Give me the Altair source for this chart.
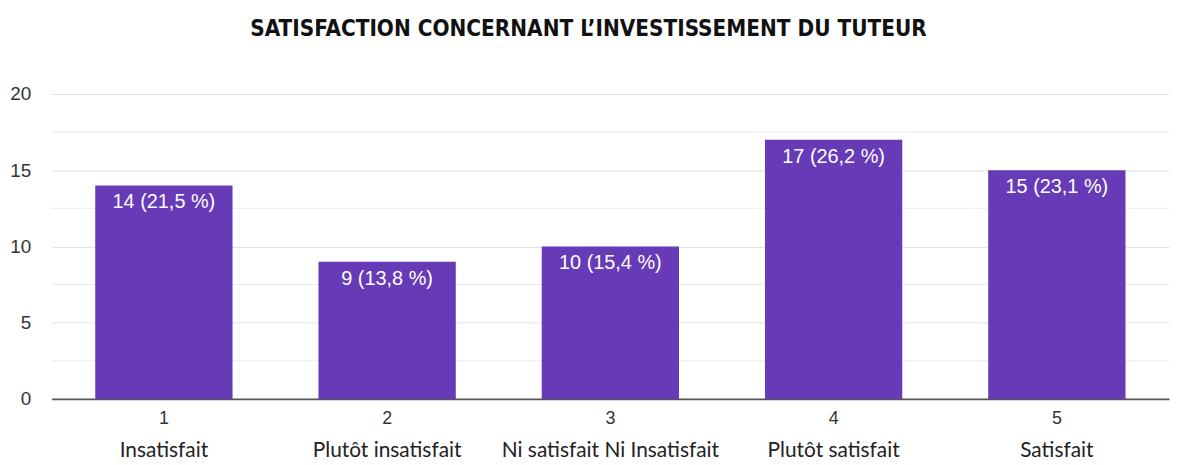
import altair as alt
import pandas as pd

codes = ["1", "2", "3", "4", "5"]
names = ["Insatisfait", "Plutôt insatisfait", "Ni satisfait Ni Insatisfait", "Plutôt satisfait", "Satisfait"]
counts = [14, 9, 10, 17, 15]
percents = ["21,5", "13,8", "15,4", "26,2", "23,1"]
y_major = [0, 5, 10, 15, 20]
y_minor = [2.5, 7.5, 12.5, 17.5]

df = pd.DataFrame({"code": codes, "name": names, "count": counts, "pct": percents})
df["label"] = df["count"].astype(str) + " (" + df["pct"] + " %)"
minor_df = pd.DataFrame({"v": y_minor})

W, H = 1125, 307

x = alt.X(
    "code:N", sort=codes,
    scale=alt.Scale(paddingInner=0.385, paddingOuter=0.195),
    axis=alt.Axis(labelAngle=0, title=None, ticks=False, domainColor="#555555", domainWidth=2,
                  labelFont="Liberation Sans", labelFontSize=18, labelColor="#333333",
                  labelPadding=11, grid=False),
)
y = alt.Y(
    "count:Q",
    scale=alt.Scale(domain=[0, 20], nice=False),
    axis=alt.Axis(values=y_major, title=None, domain=False, ticks=False,
                  gridColor="#e2e2e2", gridWidth=1,
                  labelFont="Liberation Sans", labelFontSize=19, labelColor="#333333",
                  labelPadding=21),
)

minor = alt.Chart(minor_df).mark_rule(color="#ececec", strokeWidth=1).encode(
    y=alt.Y("v:Q", scale=alt.Scale(domain=[0, 20], nice=False)))

base = alt.Chart(df)
bars = base.mark_bar(color="#673AB7").encode(x=x, y=y)
labels = base.mark_text(baseline="top", dy=7, color="white", font="Liberation Sans", fontSize=20).encode(
    x=alt.X("code:N", sort=codes), y="count:Q", text="label:N")
names_layer = base.mark_text(baseline="middle", color="#222222", font="Lato", fontSize=21).encode(
    x=alt.X("code:N", sort=codes), y=alt.value(H + 53), text="name:N")

chart = alt.layer(minor, bars, labels, names_layer).properties(
    width=W, height=H,
    title=alt.TitleParams("SATISFACTION CONCERNANT L\u2019INVESTISSEMENT DU TUTEUR",
                          font="'DejaVu Sans Condensed', 'Liberation Sans Narrow', 'Open Sans Condensed', 'Roboto Condensed', 'Noto Sans'",
                          fontWeight="bold", fontSize=22.5,
                          color="#111111", anchor="middle", dx=-22, offset=45),
    autosize=alt.AutoSizeParams(type="none"),
    padding={"left": 44, "top": 85, "right": 5, "bottom": 64},
).configure_view(stroke=None)

chart.save("out.html", embed_options={"renderer": "svg", "actions": False})
